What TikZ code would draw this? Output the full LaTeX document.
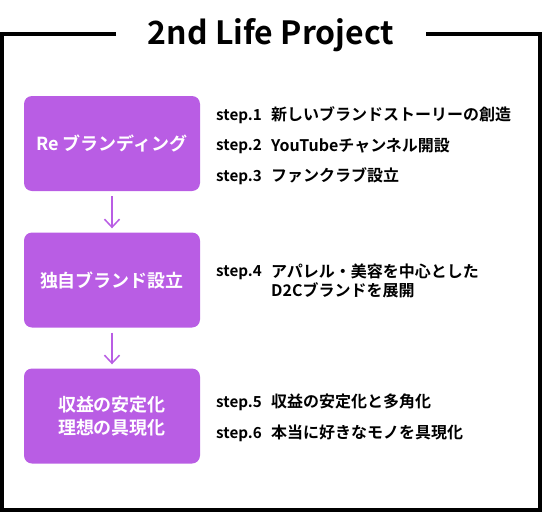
\documentclass[tikz,border=0pt]{standalone}
\usepackage{fontspec}
\setmainfont{Noto Sans CJK JP}[BoldFont={Noto Sans CJK JP Bold}]
\usepackage{tikz}
\usetikzlibrary{arrows.meta}
\definecolor{boxpurple}{HTML}{B95DE4}

\begin{document}
\begin{tikzpicture}[x=1pt, y=-1pt,
   box/.style={rectangle, rounded corners=8pt, fill=boxpurple, text=white,
      minimum width=176pt, minimum height=95pt, align=center,
      font=\fontsize{18}{23}\selectfont\bfseries},
   steplabel/.style={anchor=west, inner sep=0pt, text height=13.6pt, text depth=1.9pt,
      font=\fontsize{15.2}{20}\selectfont\bfseries},
   desc/.style={anchor=west, inner sep=0pt, text height=14.1pt, text depth=1.9pt,
      font=\fontsize{16}{20}\selectfont\bfseries},
   arr/.style={draw=boxpurple, line width=1.5pt, -{Straight Barb[length=8pt,width=15pt]},
      shorten <=5pt, shorten >=4pt}
]
   \useasboundingbox (0,0) rectangle (542,512);
   \draw[line width=4pt] (116,34) -- (2,34) -- (2,510) -- (540,510) -- (540,34) -- (426,34);
   \node[font=\fontsize{32}{32}\selectfont\bfseries, anchor=base] (title) at (271,44) {2nd Life Project};

   \node[box] (rebrand) at (112,143.5) {Re ブランディング};
   \node[box] (brand) at (112,280) {独自ブランド設立};
   \node[box] (stable) at (112,416) {収益の安定化\\理想の具現化};
   \draw[arr] (rebrand) -- (brand);
   \draw[arr] (brand) -- (stable);

   \node[steplabel] (s1) at (216,114.5) {step.1};
   \node[desc] (d1) at (271,114.5) {新しいブランドストーリーの創造};
   \node[steplabel] (s2) at (216,145) {step.2};
   \node[desc] (d2) at (271,145) {YouTubeチャンネル開設};
   \node[steplabel] (s3) at (216,175.5) {step.3};
   \node[desc] (d3) at (271,175.5) {ファンクラブ設立};
   \node[steplabel] (s4) at (216,271) {step.4};
   \node[desc] (d4) at (271,271) {アパレル・美容を中心とした};
   \node[desc] (d4b) at (271,290.7) {D2Cブランドを展開};
   \node[steplabel] (s5) at (216,401.7) {step.5};
   \node[desc] (d5) at (271,401.7) {収益の安定化と多角化};
   \node[steplabel] (s6) at (216,432.3) {step.6};
   \node[desc] (d6) at (271,432.3) {本当に好きなモノを具現化};
\end{tikzpicture}
\end{document}
